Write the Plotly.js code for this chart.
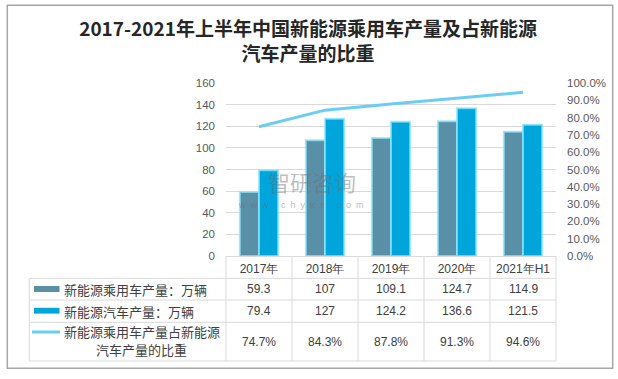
<!DOCTYPE html>
<html>
<head>
<meta charset="utf-8">
<script src="https://cdn.plot.ly/plotly-3.0.1.min.js"></script>
<style>html,body{margin:0;padding:0;background:#fff;}#chart{width:618px;height:379px;}</style>
</head>
<body>
<div id="chart"></div>
<script>
// ---- data ----
const categories = ["2017年", "2018年", "2019年", "2020年", "2021年H1"];
const passengerOutput = [59.3, 107, 109.1, 124.7, 114.9];       // 新能源乘用车产量：万辆
const nevOutput = [79.4, 127, 124.2, 136.6, 121.5];             // 新能源汽车产量：万辆
const shareRatio = [0.747, 0.843, 0.878, 0.913, 0.946];        // 占比
const shareLabels = ["74.7%", "84.3%", "87.8%", "91.3%", "94.6%"];
const seriesNames = ["新能源乘用车产量：万辆", "新能源汽车产量：万辆", "新能源乘用车产量占新能源汽车产量的比重"];
const titleText = "2017-2021年上半年中国新能源乘用车产量及占新能源<br>汽车产量的比重";

// ---- geometry helpers (pixel -> paper) ----
const W = 618, H = 379;
const PL = 226, PR = 556, PT = 83, PB = 256;
const xp = px => (px - PL) / (PR - PL);
const yp = py => (PB - py) / (PB - PT);

const cDark = "#5A8FA8", cLight = "#00A5DC", cLine = "#6CCDF4";
const grid = "#D9D9D9";
const txt = "#404040";
const fontNum = "Liberation Sans, Arial, sans-serif";
const fontCJK = "Noto Sans CJK SC, sans-serif";

const traces = [
  {type: "bar", x: categories, y: passengerOutput, name: seriesNames[0],
   marker: {color: cDark, line: {color: "rgba(140,228,250,0.75)", width: 2}}, hoverinfo: "skip"},
  {type: "bar", x: categories, y: nevOutput, name: seriesNames[1],
   marker: {color: cLight, line: {color: "rgba(140,228,250,0.75)", width: 2}}, hoverinfo: "skip"},
  {type: "scatter", mode: "lines", x: categories, y: shareRatio, yaxis: "y2", name: seriesNames[2],
   line: {color: cLine, width: 3}, hoverinfo: "skip"}
];

const shapes = [];
const ann = [];
function hline(y, x0, x1) { shapes.push({type: "line", xref: "paper", yref: "paper", x0: xp(x0), x1: xp(x1), y0: yp(y), y1: yp(y), line: {color: grid, width: 1}, layer: "above"}); }
function vline(x, y0, y1) { shapes.push({type: "line", xref: "paper", yref: "paper", x0: xp(x), x1: xp(x), y0: yp(y0), y1: yp(y1), line: {color: grid, width: 1}, layer: "above"}); }

// table grid
const rowLines = [278.3, 300, 322.3, 361];
rowLines.forEach(y => hline(y, 29.3, 555.5));
vline(29.3, 278.3, 361);
const colCount = categories.length;
for (let k = 0; k <= colCount; k++) vline(PL + k * (PR - PL) / colCount, 256, 361);

// outer frame
shapes.push({type: "rect", xref: "paper", yref: "paper", x0: xp(7.3), x1: xp(612.7), y0: yp(5.3), y1: yp(368.3), line: {color: "#A6A6A6", width: 1.5}, layer: "below"});

// legend swatches
shapes.push({type: "rect", xref: "paper", yref: "paper", x0: xp(34), x1: xp(59.5), y0: yp(286), y1: yp(292), fillcolor: cDark, line: {width: 0}});
shapes.push({type: "rect", xref: "paper", yref: "paper", x0: xp(34), x1: xp(59.5), y0: yp(307.8), y1: yp(313.6), fillcolor: cLight, line: {width: 0}});
shapes.push({type: "line", xref: "paper", yref: "paper", x0: xp(32), x1: xp(60), y0: yp(332), y1: yp(332), line: {color: cLine, width: 3}});

// row labels
const labFont = {family: fontCJK, size: 13, color: txt};
ann.push({xref: "paper", yref: "paper", x: xp(62), y: yp(289), text: seriesNames[0], showarrow: false, xanchor: "left", yanchor: "middle", font: labFont});
ann.push({xref: "paper", yref: "paper", x: xp(62), y: yp(311), text: seriesNames[1], showarrow: false, xanchor: "left", yanchor: "middle", font: labFont});
ann.push({xref: "paper", yref: "paper", x: xp(62), y: yp(331.5), text: "新能源乘用车产量占新能源", showarrow: false, xanchor: "left", yanchor: "middle", font: labFont});
ann.push({xref: "paper", yref: "paper", x: xp(141), y: yp(349.5), text: "汽车产量的比重", showarrow: false, xanchor: "center", yanchor: "middle", font: labFont});

// values
const valFont = {family: fontNum, size: 12, color: txt};
categories.forEach((c, i) => {
  ann.push({xref: "x", yref: "paper", x: c, y: yp(289), text: String(passengerOutput[i]), showarrow: false, yanchor: "middle", font: valFont});
  ann.push({xref: "x", yref: "paper", x: c, y: yp(311), text: String(nevOutput[i]), showarrow: false, yanchor: "middle", font: valFont});
  ann.push({xref: "x", yref: "paper", x: c, y: yp(341.5), text: shareLabels[i], showarrow: false, yanchor: "middle", font: valFont});
});

// watermark
const nb = "\u00A0\u00A0";
ann.push({xref: "paper", yref: "paper", x: xp(266), y: yp(181), text: "智研咨询", showarrow: false, xanchor: "left", yanchor: "middle", font: {family: fontCJK, size: 22, color: "rgba(110,110,110,0.45)"}});
ann.push({xref: "paper", yref: "paper", x: xp(236), y: yp(205), text: "www.chyxx.com".split("").join(nb), showarrow: false, xanchor: "left", yanchor: "middle", font: {family: fontNum, size: 9, color: "rgba(110,110,110,0.5)"}});

const layout = {
  width: W, height: H,
  margin: {l: PL, r: W - PR, t: PT, b: H - PB, pad: 0},
  paper_bgcolor: "#fff", plot_bgcolor: "rgba(0,0,0,0)",
  showlegend: false,
  title: {text: titleText, x: 0.4985, xanchor: "center", y: 1 - 36 / H, yanchor: "middle", yref: "container",
          font: {family: fontCJK, size: 19, color: "#262626", weight: "bold"}},
  barmode: "group", bargap: 0.42, bargroupgap: 0,
  xaxis: {type: "category", showgrid: false, showline: true, linecolor: grid, linewidth: 1,
          ticks: "", tickfont: {family: fontNum, size: 12, color: txt}, ticklabelstandoff: 2, zeroline: false, fixedrange: true},
  yaxis: {range: [0, 160], dtick: 20, showgrid: true, gridcolor: grid, gridwidth: 1, zeroline: false, showline: false,
          ticks: "", tickfont: {family: fontNum, size: 11.5, color: "#595959"}, ticklabelstandoff: 10, fixedrange: true},
  yaxis2: {range: [0, 1], dtick: 0.1, tickformat: ".1%", overlaying: "y", side: "right", showgrid: false, zeroline: false,
           showline: false, ticks: "", tickfont: {family: fontNum, size: 11.5, color: "#595959"}, ticklabelstandoff: 10, fixedrange: true},
  shapes: shapes,
  annotations: ann
};

Plotly.newPlot("chart", traces, layout, {staticPlot: true, displayModeBar: false});
</script>
</body>
</html>
